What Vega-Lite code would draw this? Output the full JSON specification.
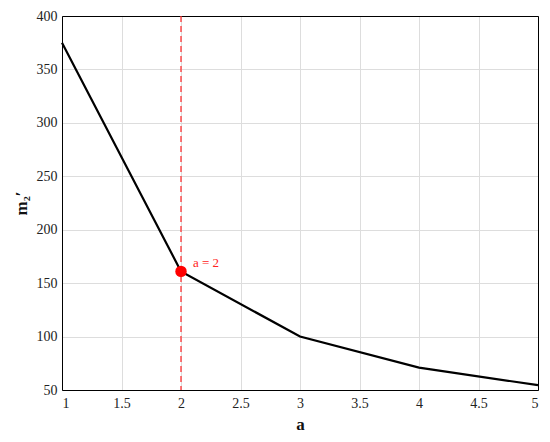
{
  "$schema": "https://vega.github.io/schema/vega-lite/v6.json",
  "width": 476,
  "height": 374,
  "autosize": {"type": "none"},
  "padding": {"left": 62, "top": 16, "right": 12, "bottom": 52},
  "background": "white",
  "view": {"stroke": "#000000", "strokeWidth": 1},
  "config": {
    "font": "Liberation Serif",
    "axis": {
      "labelFont": "Liberation Serif",
      "titleFont": "Liberation Serif",
      "labelFontSize": 14,
      "titleFontSize": 17,
      "labelColor": "#222",
      "titleColor": "#111",
      "gridColor": "#dddddd",
      "gridWidth": 1,
      "domain": true,
      "domainColor": "#000000",
      "domainWidth": 1,
      "ticks": false
    }
  },
  "datasets": {
    "curve": [
      {"a": 1, "m": 375},
      {"a": 2, "m": 161},
      {"a": 3, "m": 100},
      {"a": 4, "m": 71},
      {"a": 5, "m": 54.5}
    ],
    "marker": [
      {"a": 2, "m": 161, "label": "a = 2"}
    ]
  },
  "resolve": {"axis": {"x": "independent", "y": "independent"}},
  "layer": [
    {
      "data": {"name": "curve"},
      "mark": {"type": "line", "color": "black", "strokeWidth": 2.2},
      "encoding": {
        "x": {"field": "a", "type": "quantitative", "scale": {"domain": [1, 5], "nice": false}, "axis": {"values": [1, 1.5, 2, 2.5, 3, 3.5, 4, 4.5, 5], "format": "~r", "title": "a", "titleFontWeight": "bold", "titlePadding": 6, "labelPadding": 6}},
        "y": {"field": "m", "type": "quantitative", "scale": {"domain": [50, 400], "nice": false}, "axis": {"values": [50, 100, 150, 200, 250, 300, 350, 400], "format": "d", "title": "m₂′", "titleFontWeight": "bold", "titlePadding": 6, "labelPadding": 5}}
      }
    },
    {
      "data": {"name": "marker"},
      "mark": {"type": "point", "opacity": 0, "size": 1},
      "encoding": {
        "x": {"field": "a", "type": "quantitative", "axis": {"orient": "top", "labels": false, "grid": false, "title": null}},
        "y": {"field": "m", "type": "quantitative", "axis": {"orient": "right", "labels": false, "grid": false, "title": null}}
      }
    },
    {
      "data": {"name": "marker"},
      "mark": {"type": "rule", "color": "#ff3333", "strokeWidth": 1.3, "strokeDash": [6, 4]},
      "encoding": {
        "x": {"field": "a", "type": "quantitative", "axis": null}
      }
    },
    {
      "data": {"name": "marker"},
      "mark": {"type": "point", "filled": true, "color": "#ff0000", "size": 130, "opacity": 1},
      "encoding": {
        "x": {"field": "a", "type": "quantitative", "axis": null},
        "y": {"field": "m", "type": "quantitative", "axis": null}
      }
    },
    {
      "data": {"name": "marker"},
      "mark": {"type": "text", "color": "#ff2222", "align": "left", "dx": 12, "dy": -8, "fontSize": 13, "font": "Liberation Serif"},
      "encoding": {
        "x": {"field": "a", "type": "quantitative", "axis": null},
        "y": {"field": "m", "type": "quantitative", "axis": null},
        "text": {"field": "label"}
      }
    }
  ]
}
